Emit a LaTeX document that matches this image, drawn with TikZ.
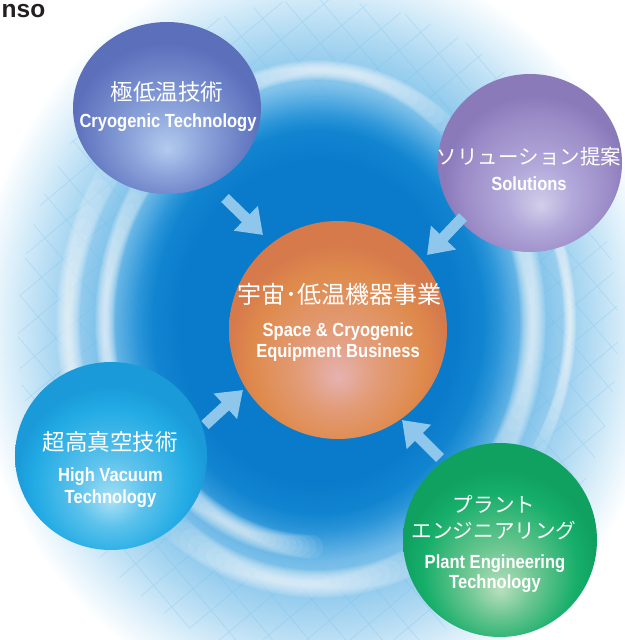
\documentclass[tikz,border=0pt]{standalone}
\usepackage{fontspec}
\newfontfamily\jpfont{Noto Sans CJK JP}
\newfontfamily\enfont{Liberation Sans}[FakeStretch=0.87]
\newfontfamily\headfont{Liberation Sans}
\usetikzlibrary{arrows.meta,fadings,shapes.geometric}

% background swirl
\definecolor{ringA}{HTML}{4AA6E0}
\definecolor{ringB}{HTML}{80C2EA}
\definecolor{ringC}{HTML}{AFD9F2}
\definecolor{ringD}{HTML}{DCEFFA}
\definecolor{coreA}{HTML}{0A7BCA}
\definecolor{coreB}{HTML}{168AD4}
\definecolor{coreC}{HTML}{3A9FDD}
\definecolor{gridblue}{HTML}{6CBDEB}
\definecolor{arrowblue}{HTML}{8FC7EC}
\definecolor{headgray}{HTML}{231F20}
% spheres
\definecolor{tlL}{HTML}{B3CBEE}\definecolor{tlM}{HTML}{8EA6DC}
\definecolor{tlB}{HTML}{6A80C6}\definecolor{tlE}{HTML}{5B6FBB}
\definecolor{trL}{HTML}{D2CEEA}\definecolor{trM}{HTML}{B2A9DA}
\definecolor{trB}{HTML}{9B8BC7}\definecolor{trE}{HTML}{8A7ABA}
\definecolor{blL}{HTML}{A8E0F4}\definecolor{blM}{HTML}{5CC2EC}
\definecolor{blB}{HTML}{22ABE4}\definecolor{blE}{HTML}{1A9AD8}
\definecolor{brL}{HTML}{B8DFBD}\definecolor{brM}{HTML}{6CC691}
\definecolor{brB}{HTML}{16AE6A}\definecolor{brE}{HTML}{10A060}
\definecolor{ceL}{HTML}{E6B2B0}\definecolor{ceM}{HTML}{E29C78}
\definecolor{ceB}{HTML}{DF8A4C}\definecolor{ceE}{HTML}{D67A4C}

\pgfdeclareradialshading{glowshade}{\pgfpointorigin}{color(0bp)=(ringA); color(13bp)=(ringA); color(16bp)=(ringB); color(19.5bp)=(ringC); color(22.5bp)=(ringD); color(25bp)=(white); color(50bp)=(white)}
\pgfdeclareradialshading{coreshade}{\pgfpointorigin}{color(0bp)=(coreA); color(17bp)=(coreA); color(22bp)=(coreB); color(25bp)=(coreC); color(50bp)=(coreC)}
\pgfdeclareradialshading{rimshade}{\pgfpointorigin}{color(0bp)=(white); color(20bp)=(white); color(25bp)=(black); color(50bp)=(black)}
\pgfdeclarefading{softrim}{\pgfuseshading{rimshade}}

\pgfdeclareradialshading{ballTL}{\pgfpoint{0bp}{-12bp}}{color(0bp)=(tlL); color(9bp)=(tlM); color(20bp)=(tlB); color(25bp)=(tlE); color(50bp)=(tlE)}
\pgfdeclareradialshading{ballTR}{\pgfpoint{3bp}{-12bp}}{color(0bp)=(trL); color(9bp)=(trM); color(20bp)=(trB); color(25bp)=(trE); color(50bp)=(trE)}
\pgfdeclareradialshading{ballBL}{\pgfpoint{0bp}{-12bp}}{color(0bp)=(blL); color(9bp)=(blM); color(20bp)=(blB); color(25bp)=(blE); color(50bp)=(blE)}
\pgfdeclareradialshading{ballBR}{\pgfpoint{0bp}{-13bp}}{color(0bp)=(brL); color(9bp)=(brM); color(20bp)=(brB); color(25bp)=(brE); color(50bp)=(brE)}
\pgfdeclareradialshading{ballCE}{\pgfpoint{0bp}{-11bp}}{color(0bp)=(ceL); color(9bp)=(ceM); color(20bp)=(ceB); color(25bp)=(ceE); color(50bp)=(ceE)}

\tikzset{
  orb/.style={ellipse, inner sep=0pt, shade, draw=none},
  streak/.style={draw=white, line width=#1, line cap=round, opacity=0.085},
  gridline/.style={draw=gridblue, line width=0.7pt, opacity=0.28},
  flow/.style={draw=arrowblue, line width=11pt, -{Triangle[length=24pt, width=33pt, fill=arrowblue]}},
  jplabel/.style={anchor=base, inner sep=0pt, text=white, font=\jpfont\fontsize{#1}{#1}\selectfont},
  enlabel/.style={anchor=base, inner sep=0pt, text=white, font=\enfont\bfseries\fontsize{19}{21}\selectfont},
}

% a soft light band along an elliptic arc round the core, tapering at both ends
% #1 x radius, #2 y radius, #3 start angle, #4 end angle, #5 widest line width
\newcommand{\swoosh}[5]{%
  \foreach \k in {0,...,11}{%
    \pgfmathsetmacro\sa{(#3)+((#4)-(#3))*0.036*\k}%
    \pgfmathsetmacro\ea{(#4)-((#4)-(#3))*0.036*\k}%
    \pgfmathsetmacro\lw{(#5)*(1-0.075*\k)}%
    \draw[streak=\lw pt] ([shift={(\sa:#1pt and #2pt)}]318,322)
      arc[start angle=\sa, end angle=\ea, x radius=#1pt, y radius=#2pt];
  }}

\begin{document}
\begin{tikzpicture}[x=1pt, y=-1pt]
\useasboundingbox (0,0) rectangle (624,640);
\fill[white] (0,0) rectangle (624,640);

% soft halo
\shade[shading=glowshade] (318,330) ellipse [x radius=345pt, y radius=380pt];

% faint lattice in the halo
\begin{scope}
  \clip (318,330) ellipse [x radius=300pt, y radius=330pt];
  \draw[gridline, rotate around={40:(318,330)}] (-300,-300) grid[step=28pt] (940,960);
\end{scope}

% deep blue core
\shade[shading=coreshade, path fading=softrim] (318,322) ellipse [x radius=205pt, y radius=238pt];

% light streaks around the core
\swoosh{250}{272}{145}{225}{24}
\swoosh{213}{242}{138}{218}{20}
\swoosh{215}{250}{-42}{40}{26}
\swoosh{252}{262}{-30}{32}{13}
\swoosh{205}{252}{120}{50}{20}
\swoosh{230}{262}{232}{295}{28}
\swoosh{200}{225}{222}{268}{24}

% spheres
\node[orb, shading=ballTL, minimum width=188pt, minimum height=172pt] (cryo) at (167,108) {};
\node[orb, shading=ballTR, minimum width=184pt, minimum height=178pt] (sol) at (530,163) {};
\node[orb, shading=ballBL, minimum width=192pt, minimum height=188pt] (vac) at (111,456) {};
\node[orb, shading=ballBR, minimum width=194pt, minimum height=194pt] (plant) at (500,540) {};
\node[orb, shading=ballCE, minimum width=218pt, minimum height=218pt] (core) at (338,330) {};

% arrows into the centre
\coordinate (a1s) at (225,198); \coordinate (a1e) at (263,235);
\coordinate (a2s) at (463,217); \coordinate (a2e) at (427,255);
\coordinate (a3s) at (205,425); \coordinate (a3e) at (243,390);
\coordinate (a4s) at (440,458); \coordinate (a4e) at (402,420);
\draw[flow] (a1s) -- (a1e);
\draw[flow] (a2s) -- (a2e);
\draw[flow] (a3s) -- (a3e);
\draw[flow] (a4s) -- (a4e);

% labels
\node[jplabel=22.5] (cryoJ) at (167,100.5) {極低温技術};
\node[enlabel] (cryoE) at (168,127) {Cryogenic Technology};

\node[jplabel=20.5] (solJ) at (529,164.8) {ソリューション提案};
\node[enlabel] (solE) at (529,190.5) {Solutions};

\node[jplabel=24] (coreJ) at (339,303.6) {宇宙･低温機器事業};
\node[enlabel] (coreE1) at (338,336) {Space \& Cryogenic};
\node[enlabel] (coreE2) at (338,357) {Equipment Business};

\node[jplabel=22.5] (vacJ) at (110,450.5) {超高真空技術};
\node[enlabel] (vacE1) at (110.5,481) {High Vacuum};
\node[enlabel] (vacE2) at (110.5,503) {Technology};

\node[jplabel=20.6] (plantJ1) at (494,512.8) {プラント};
\node[jplabel=20.6] (plantJ2) at (494,538.8) {エンジニアリング};
\node[enlabel] (plantE1) at (495,568) {Plant Engineering};
\node[enlabel] (plantE2) at (495,588) {Technology};

% heading fragment
\node[anchor=base west, inner sep=0pt, text=headgray, font=\headfont\bfseries\fontsize{24.5}{28}\selectfont] (head) at (1.5,17) {nso};
\end{tikzpicture}
\end{document}
